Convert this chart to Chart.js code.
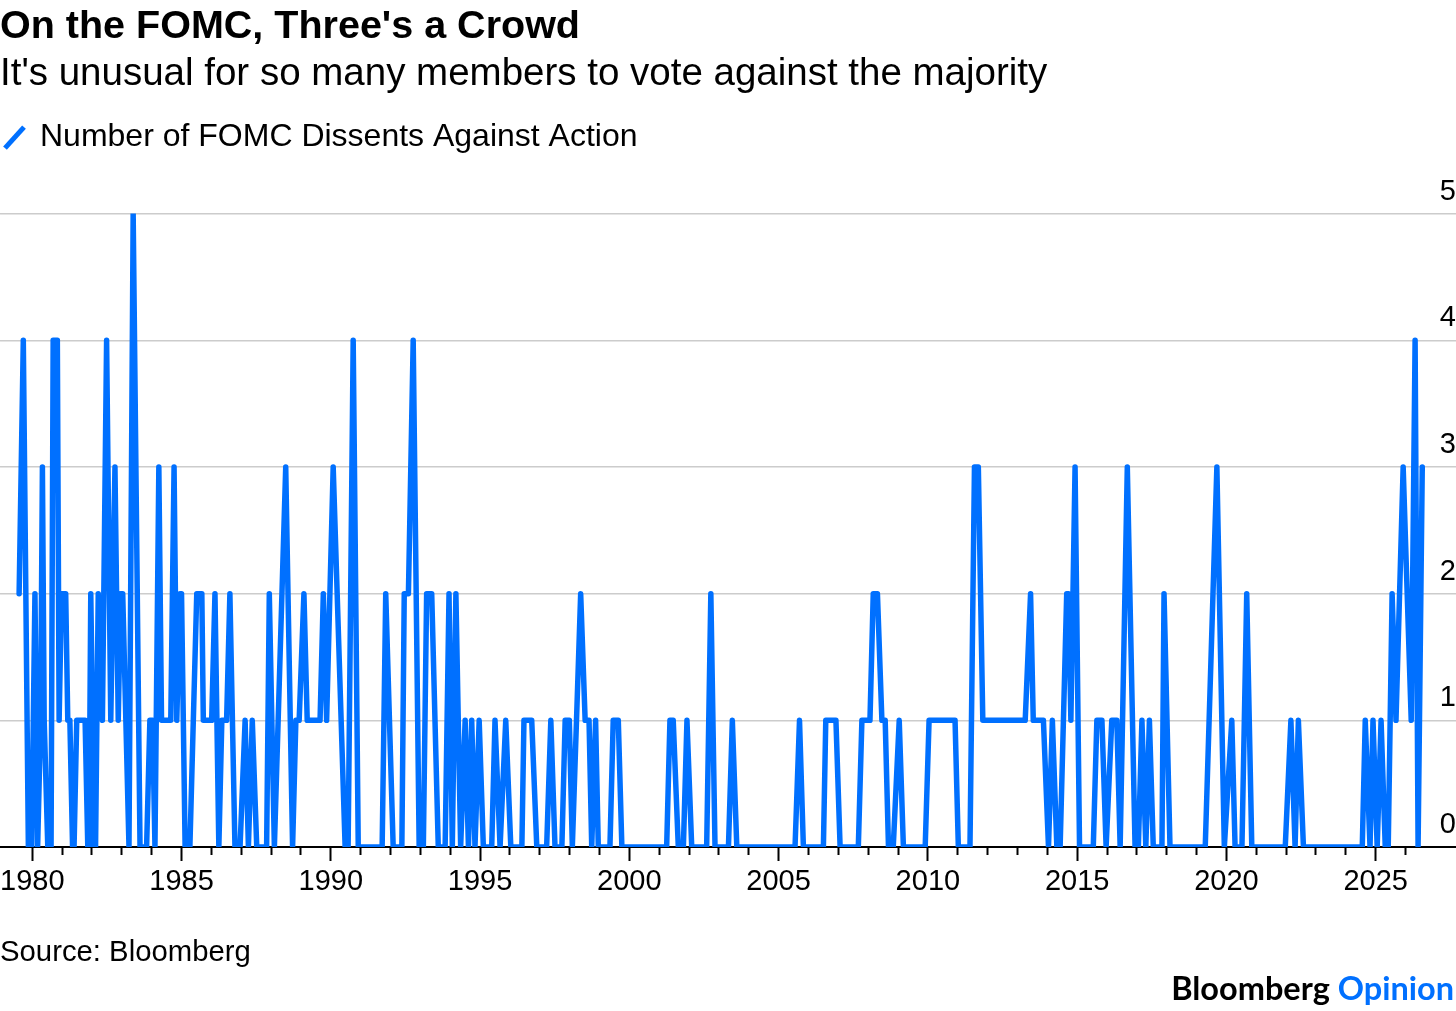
<!DOCTYPE html>
<html>
<head>
<meta charset="utf-8">
<script src="https://cdn.jsdelivr.net/npm/chart.js@4.4.1/dist/chart.umd.min.js"></script>
<style>
html,body{margin:0;padding:0;background:#fff;}
#wrap{position:relative;width:1456px;height:1011px;overflow:hidden;background:#fff;}
#c{position:absolute;left:0;top:0;width:1456px;height:1011px;}
.src{position:absolute;left:0;top:936px;font-family:'Liberation Sans',Arial,sans-serif;font-size:29.3px;line-height:29.3px;color:#000;white-space:nowrap;}
.brand{position:absolute;right:2px;top:972px;font-family:Lato,sans-serif;font-weight:bold;font-size:32.5px;line-height:32.5px;color:#000;white-space:nowrap;}
.brand span{color:#0070ff;}
</style>
</head>
<body>
<div id="wrap">
<canvas id="c" width="1456" height="1011"></canvas>
<div class="src">Source: Bloomberg</div>
<div class="brand">Bloomberg <span>Opinion</span></div>
</div>
<script>
// Meeting dates (decimal years) and number of dissents at each meeting
const meetingDates = [
  1979.56,1979.70,1979.87,1979.98,1980.09,1980.18,1980.28,1980.34,1980.40,1980.52,
  1980.63,1980.70,1980.84,1980.90,1980.98,1981.12,1981.19,1981.26,1981.35,1981.40,
  1981.49,1981.77,1981.86,1981.90,1981.96,1982.08,1982.12,1982.21,1982.35,1982.49,
  1982.63,1982.77,1982.88,1982.96,1983.03,1983.24,1983.38,1983.61,1983.83,1983.94,
  1984.03,1984.11,1984.24,1984.33,1984.64,1984.75,1984.84,1984.95,1985.00,1985.12,
  1985.28,1985.51,1985.68,1985.73,1986.01,1986.12,1986.25,1986.35,1986.51,1986.62,
  1986.79,1986.96,1987.13,1987.24,1987.37,1987.52,1987.85,1987.94,1988.11,1988.49,
  1988.72,1988.83,1988.94,1989.10,1989.21,1989.64,1989.75,1989.86,1990.08,1990.48,
  1990.58,1990.75,1990.92,1991.72,1991.84,1992.09,1992.38,1992.46,1992.60,1992.76,
  1992.96,1993.10,1993.21,1993.38,1993.60,1993.83,1993.96,1994.07,1994.19,1994.35,
  1994.50,1994.61,1994.72,1994.83,1994.97,1995.11,1995.39,1995.50,1995.67,1995.86,
  1996.03,1996.40,1996.47,1996.73,1996.90,1997.23,1997.37,1997.51,1997.74,1997.85,
  1997.99,1998.09,1998.37,1998.52,1998.65,1998.74,1998.87,1998.96,1999.35,1999.46,
  1999.63,1999.75,2001.25,2001.36,2001.47,2001.64,2001.81,2001.93,2002.09,2002.59,
  2002.73,2002.87,2003.32,2003.45,2003.60,2005.55,2005.70,2005.83,2006.50,2006.58,
  2006.92,2007.06,2007.67,2007.79,2008.06,2008.17,2008.31,2008.46,2008.57,2008.68,
  2008.84,2009.04,2009.18,2009.91,2010.04,2010.91,2011.02,2011.41,2011.56,2011.69,
  2011.84,2013.26,2013.44,2013.53,2013.87,2014.04,2014.17,2014.32,2014.43,2014.65,
  2014.71,2014.79,2014.93,2015.08,2015.54,2015.66,2015.83,2015.97,2016.16,2016.33,
  2016.44,2016.68,2016.94,2017.05,2017.17,2017.30,2017.42,2017.55,2017.84,2017.91,
  2018.11,2019.29,2019.68,2019.93,2020.18,2020.29,2020.52,2020.68,2020.85,2021.97,
  2022.16,2022.30,2022.41,2022.58,2024.55,2024.65,2024.81,2024.91,2025.05,2025.18,
  2025.32,2025.42,2025.55,2025.68,2025.92,2026.19,2026.32,2026.42,2026.56
];
const dissents = [
  2,4,0,0,2,0,1,3,1,0,
  0,4,4,1,2,2,1,1,0,0,
  1,1,0,0,2,0,0,2,1,4,
  1,3,1,2,2,0,5,0,0,1,
  1,0,3,1,1,3,1,2,2,0,
  0,2,2,1,1,2,0,1,1,2,
  0,0,1,0,1,0,0,2,0,3,
  0,1,1,2,1,1,2,1,3,0,
  0,4,0,0,2,0,0,2,2,4,
  0,0,2,2,0,0,2,0,2,0,
  1,0,1,0,1,0,0,1,0,1,
  0,0,1,1,0,0,1,0,0,1,
  1,0,2,1,1,0,1,0,0,1,
  1,0,0,1,1,0,0,1,0,0,
  2,0,0,1,0,0,1,0,0,1,
  1,0,0,1,1,2,2,1,1,0,
  0,1,0,0,1,1,0,0,3,3,
  1,1,2,1,1,0,1,0,0,2,
  2,1,3,0,0,1,1,0,1,1,
  0,3,0,0,1,0,1,0,0,2,
  0,0,3,0,1,0,0,2,0,0,
  1,0,1,0,0,1,0,1,0,1,
  0,0,2,1,3,1,4,0,3
];
const seriesLabel = 'Number of FOMC Dissents Against Action';
const xLabelYears = [1980, 1985, 1990, 1995, 2000, 2005, 2010, 2015, 2020, 2025];
const xFirstTickYear = 1980;
const xLastTickYear = 2026;
const yTickValues = [0, 1, 2, 3, 4, 5];

const BLUE = '#0070ff';
const FONT = "'Liberation Sans', Arial, Helvetica, sans-serif";
const X_MIN = 1978.92, X_MAX = 2027.69;
const TOP_SPACER = 50;

const tickYears = [];
for (let y = xFirstTickYear; y <= xLastTickYear; y++) tickYears.push(y);

Chart.defaults.font.family = FONT;
Chart.defaults.color = '#000';

const points = meetingDates.map((d, i) => ({ x: d, y: dissents[i] }));

new Chart(document.getElementById('c').getContext('2d'), {
  type: 'line',
  data: {
    datasets: [{
      label: seriesLabel,
      data: points,
      borderColor: BLUE,
      backgroundColor: BLUE,
      borderWidth: 5.5,
      borderJoinStyle: 'round',
      borderCapStyle: 'round',
      tension: 0,
      fill: false,
      pointRadius: 0,
      pointHoverRadius: 0,
      pointStyle: 'line',
      pointRotation: -45,
      pointBorderColor: BLUE,
      pointBorderWidth: 5,
      xAxisID: 'x',
      yAxisID: 'y'
    }]
  },
  options: {
    responsive: false,
    animation: false,
    devicePixelRatio: 1,
    events: [],
    layout: { padding: 0 },
    plugins: {
      title: {
        display: true,
        text: "On the FOMC, Three's a Crowd",
        align: 'start',
        color: '#000',
        font: { family: FONT, size: 39.5, weight: 'bold', lineHeight: 1.2 },
        padding: { top: 3, bottom: 0 }
      },
      subtitle: {
        display: true,
        text: "It's unusual for so many members to vote against the majority",
        align: 'start',
        color: '#000',
        font: { family: FONT, size: 38.5, weight: 'normal', lineHeight: 1.2 },
        padding: { top: 1, bottom: 19 }
      },
      legend: {
        display: true,
        position: 'top',
        align: 'start',
        labels: {
          usePointStyle: true,
          pointStyleWidth: 19,
          boxHeight: 21,
          padding: 5,
          color: '#000',
          font: { family: FONT, size: 32 }
        }
      },
      tooltip: { enabled: false }
    },
    scales: {
      x: {
        type: 'linear',
        position: 'bottom',
        min: X_MIN,
        max: X_MAX,
        z: 1,
        afterBuildTicks: s => { s.ticks = tickYears.map(v => ({ value: v })); },
        afterFit: s => { s.height = 164; },
        ticks: {
          autoSkip: false,
          maxRotation: 0,
          minRotation: 0,
          padding: 0,
          color: '#000',
          font: { family: FONT, size: 29, lineHeight: 1.45 },
          callback: v => xLabelYears.includes(v) ? String(v) : ''
        },
        grid: {
          display: true,
          drawOnChartArea: false,
          drawTicks: true,
          tickLength: 14,
          tickWidth: 2,
          tickColor: '#000',
          tickBorderDash: ctx => (ctx.tick && xLabelYears.includes(ctx.tick.value)) ? [] : [7, 40]
        },
        border: { display: true, color: '#000', width: 2 }
      },
      xTop: {
        type: 'linear',
        position: 'top',
        min: X_MIN,
        max: X_MAX,
        display: true,
        ticks: { display: false },
        grid: { display: false, drawTicks: false },
        border: { display: false },
        afterFit: s => { s.height = TOP_SPACER; }
      },
      y: {
        type: 'linear',
        position: 'right',
        min: 0,
        max: 5,
        afterBuildTicks: s => { s.ticks = yTickValues.map(v => ({ value: v })); },
        ticks: {
          mirror: true,
          padding: 0,
          labelOffset: -22,
          color: '#000',
          font: { family: FONT, size: 29 }
        },
        grid: { color: '#cccccc', lineWidth: 1.5, drawTicks: false },
        border: { display: false }
      }
    }
  }
});
</script>
</body>
</html>
